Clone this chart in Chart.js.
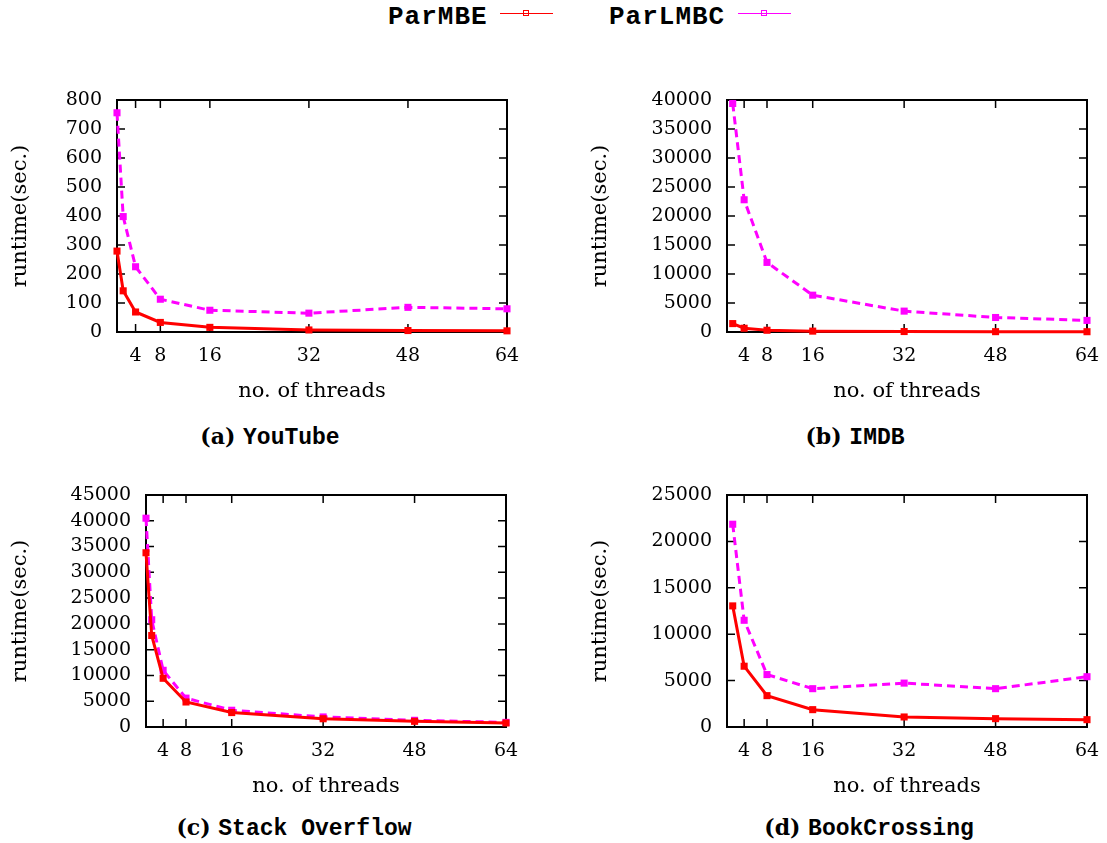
<!DOCTYPE html>
<html>
<head>
<meta charset="utf-8">
<script src="https://cdn.jsdelivr.net/npm/chart.js@4.4.1/dist/chart.umd.min.js"></script>
<style>
  body { margin: 0; background: #fff; width: 1107px; height: 843px; position: relative; overflow: hidden; }
  canvas { position: absolute; }
  .nom { position: absolute; font: bold 26px "Liberation Mono", monospace; letter-spacing: 1px; color: #000; line-height: 30px; }
  .trait { position: absolute; height: 1px; }
  .carre { position: absolute; width: 4px; height: 4px; border: 1px solid; background: transparent; }
  .cap { position: absolute; transform: translateX(-50%); white-space: nowrap; font: bold 22px "DejaVu Serif", serif; color: #000; }
  .cap span { font: bold 23px "Liberation Mono", monospace; }
</style>
</head>
<body>

<div class="nom" style="left:388px;top:2px">ParMBE</div>
<div class="trait" style="left:500px;top:13px;width:53px;background:#ff0000"></div>
<div class="carre" style="left:523px;top:10px;border-color:#ff0000"></div>
<div class="nom" style="left:609px;top:2px">ParLMBC</div>
<div class="trait" style="left:738px;top:13px;width:53px;background:#ff00ff"></div>
<div class="carre" style="left:761px;top:10px;border-color:#ff00ff"></div>

<canvas id="g1" width="532" height="319" style="left:0;top:85px"></canvas>
<canvas id="g2" width="527" height="319" style="left:580px;top:85px"></canvas>
<canvas id="g3" width="532" height="319" style="left:0;top:480px"></canvas>
<canvas id="g4" width="527" height="319" style="left:580px;top:480px"></canvas>

<div class="cap" style="left:270px;top:423px">(a) <span>YouTube</span></div>
<div class="cap" style="left:855px;top:423px">(b) <span>IMDB</span></div>
<div class="cap" style="left:294px;top:814px">(c) <span>Stack Overflow</span></div>
<div class="cap" style="left:869px;top:814px">(d) <span>BookCrossing</span></div>

<script>
// nombre de threads
const threads1 = [1, 2, 4, 8, 16, 32, 48, 64];
const threads2 = [2, 4, 8, 16, 32, 48, 64];
const xTicks = [4, 8, 16, 32, 48, 64];

// temps d'execution (sec.)
const youtubeMBE = [279, 142, 69, 33, 16, 7, 5, 4];
const youtubeLMBC = [756, 398, 225, 113, 75, 65, 85, 80];
const imdbMBE = [1450, 650, 300, 150, 80, 60, 50];
const imdbLMBC = [39400, 22800, 12000, 6350, 3600, 2500, 2000];
const stackMBE = [33800, 17750, 9450, 4850, 2800, 1600, 1100, 780];
const stackLMBC = [40500, 20800, 11000, 5600, 3250, 1950, 1300, 900];
const bookMBE = [13050, 6550, 3380, 1870, 1080, 900, 790];
const bookLMBC = [21850, 11500, 5650, 4130, 4730, 4130, 5420];

const police = "'DejaVu Serif', serif";

// cadre + graduations vers l'interieur, sur les quatre cotes
const cadre = {
  id: 'cadre',
  beforeDatasetsDraw(chart) {
    const { ctx, chartArea: a, scales: { x, y } } = chart;
    ctx.save();
    ctx.strokeStyle = '#000';
    ctx.lineWidth = 1.5;
    ctx.beginPath();
    y.ticks.forEach(t => {
      const py = y.getPixelForValue(t.value);
      ctx.moveTo(a.left, py); ctx.lineTo(a.left + 8, py);
      ctx.moveTo(a.right, py); ctx.lineTo(a.right - 8, py);
    });
    x.ticks.forEach(t => {
      const px = x.getPixelForValue(t.value);
      ctx.moveTo(px, a.bottom); ctx.lineTo(px, a.bottom - 8);
      ctx.moveTo(px, a.top); ctx.lineTo(px, a.top + 8);
    });
    ctx.stroke();
    ctx.lineWidth = 2;
    ctx.strokeRect(a.left, a.top, a.right - a.left, a.bottom - a.top);
    ctx.restore();
  }
};

function serie(xs, ys, couleur, pointille) {
  return {
    data: xs.map((v, i) => ({ x: v, y: ys[i] })),
    borderColor: couleur,
    backgroundColor: couleur,
    borderWidth: 3,
    borderDash: pointille ? [8, 5] : [],
    pointStyle: 'rect',
    pointRadius: 5,
    pointBorderWidth: 0,
    pointBackgroundColor: couleur,
    tension: 0,
    clip: 8
  };
}

function graphe(id, xs, mbe, lmbc, yMax, pas, largeurY, droite) {
  new Chart(document.getElementById(id), {
    type: 'line',
    data: {
      datasets: [
        serie(xs, mbe, '#ff0000', false),
        serie(xs, lmbc, '#ff00ff', true)
      ]
    },
    options: {
      responsive: false,
      animation: false,
      layout: { padding: { top: 15, right: droite, left: 0, bottom: 0 } },
      plugins: { legend: { display: false }, tooltip: { enabled: false } },
      scales: {
        x: {
          type: 'linear',
          min: 1,
          max: 64,
          grid: { display: false, drawTicks: false },
          border: { display: false },
          afterBuildTicks: s => { s.ticks = xTicks.map(v => ({ value: v })); },
          afterFit: s => { s.height = 72; s.paddingLeft = 0; s.paddingRight = 0; },
          ticks: { autoSkip: false, maxRotation: 0, padding: 13, color: '#000', font: { family: police, size: 19 } },
          title: { display: true, text: 'no. of threads', color: '#000', padding: { top: 0, bottom: 0 }, font: { family: police, size: 21 } }
        },
        y: {
          min: 0,
          max: yMax,
          grid: { display: false, drawTicks: false },
          border: { display: false },
          // largeur fixe, et pas de marge haute/basse ajoutee par les etiquettes
          afterFit: s => { s.width = largeurY; s.paddingTop = 0; s.paddingBottom = 0; },
          ticks: { stepSize: pas, autoSkip: false, padding: 15, color: '#000', font: { family: police, size: 19 }, callback: v => String(v) },
          title: { display: true, text: 'runtime(sec.)', color: '#000', padding: { top: 8, bottom: 0 }, font: { family: police, size: 21 } }
        }
      }
    },
    plugins: [cadre]
  });
}

graphe('g1', threads1, youtubeMBE, youtubeLMBC, 800, 100, 117, 25);
graphe('g2', threads2, imdbMBE, imdbLMBC, 40000, 5000, 147, 20);
graphe('g3', threads1, stackMBE, stackLMBC, 45000, 5000, 146, 26);
graphe('g4', threads2, bookMBE, bookLMBC, 25000, 5000, 147, 20);
</script>
</body>
</html>
